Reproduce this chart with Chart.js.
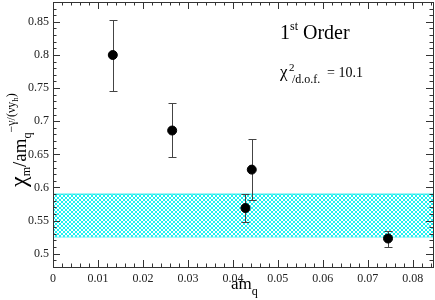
<!DOCTYPE html>
<html>
<head>
<meta charset="utf-8">
<script src="https://cdn.jsdelivr.net/npm/chart.js@4/dist/chart.umd.min.js"></script>
<style>
  html, body { margin: 0; padding: 0; background: #fff; }
</style>
</head>
<body>
<canvas id="myChart" width="435" height="300"></canvas>
<script>
// measured points: am_q, chi value, error bar top / bottom
const amq = [0.0133, 0.0265, 0.0428, 0.0442, 0.0745];
const chi = [0.800, 0.686, 0.569, 0.627, 0.523];
const errHi = [0.853, 0.727, 0.590, 0.673, 0.535];
const errLo = [0.746, 0.646, 0.548, 0.581, 0.510];

// fitted constant band
const bandX = [0, 0.0845];
const bandTop = [0.590, 0.590];
const bandBottom = [0.5255, 0.5255];

const xTicks = [0, 0.01, 0.02, 0.03, 0.04, 0.05, 0.06, 0.07, 0.08];
const yTicks = [0.5, 0.55, 0.6, 0.65, 0.7, 0.75, 0.8, 0.85];
const xMinor = 0.002;
const yMinor = 0.01;

const serif = '"Liberation Serif", "DejaVu Serif", serif';

// crosshatch tile, pixel by pixel
function hatch() {
    const c = document.createElement('canvas');
    c.width = 4; c.height = 4;
    const g = c.getContext('2d');
    g.fillStyle = '#ffffff';
    g.fillRect(0, 0, 4, 4);
    g.fillStyle = '#20f0f0';
    for (let i = 0; i < 4; i++) {
        g.fillRect(i, i, 1, 1);
        g.fillRect(3 - i, i, 1, 1);
    }
    return g.createPattern(c, 'repeat');
}

// draw a run of text pieces [text, size, dy]
function rich(ctx, x, y, parts) {
    ctx.textAlign = 'left';
    ctx.textBaseline = 'alphabetic';
    for (const [t, size, dy] of parts) {
        ctx.font = size + 'px ' + serif;
        ctx.fillText(t, x, y + dy);
        x += ctx.measureText(t).width;
    }
}

const errorBars = {
    id: 'errorBars',
    beforeDatasetDraw(chart, args) {
        if (args.index !== 0) return;
        const ctx = chart.ctx, xs = chart.scales.x, ys = chart.scales.y;
        ctx.save();
        ctx.strokeStyle = '#444';
        ctx.lineWidth = 1;
        for (let i = 0; i < amq.length; i++) {
            const px = Math.round(xs.getPixelForValue(amq[i])) + 0.5;
            const top = Math.round(ys.getPixelForValue(errHi[i])) + 0.5;
            const bot = Math.round(ys.getPixelForValue(errLo[i])) + 0.5;
            ctx.beginPath();
            ctx.moveTo(px, top); ctx.lineTo(px, bot);
            ctx.moveTo(px - 4, top); ctx.lineTo(px + 4, top);
            ctx.moveTo(px - 4, bot); ctx.lineTo(px + 4, bot);
            ctx.stroke();
        }
        ctx.restore();
    }
};

const frame = {
    id: 'frame',
    afterDraw(chart) {
        const ctx = chart.ctx, a = chart.chartArea;
        const xs = chart.scales.x, ys = chart.scales.y;
        ctx.save();
        ctx.strokeStyle = '#333';
        ctx.lineWidth = 1;
        ctx.strokeRect(Math.round(a.left) + 0.5, Math.round(a.top) + 0.5,
            Math.round(a.right - a.left), Math.round(a.bottom - a.top));
        ctx.beginPath();
        // x ticks, inward, top and bottom
        for (let v = 0; v <= xs.max + 1e-9; v += xMinor) {
            const px = Math.round(xs.getPixelForValue(v)) + 0.5;
            const major = Math.abs(v / 0.01 - Math.round(v / 0.01)) < 1e-6;
            const len = major ? 7 : 3.5;
            ctx.moveTo(px, a.bottom); ctx.lineTo(px, a.bottom - len);
            ctx.moveTo(px, a.top); ctx.lineTo(px, a.top + len);
        }
        // y ticks, inward, left and right
        for (let v = 0.48; v <= ys.max + 1e-9; v += yMinor) {
            const py = Math.round(ys.getPixelForValue(v)) + 0.5;
            const major = Math.abs(v / 0.05 - Math.round(v / 0.05)) < 1e-6;
            const len = major ? 7 : 3.5;
            ctx.moveTo(a.left, py); ctx.lineTo(a.left + len, py);
            ctx.moveTo(a.right, py); ctx.lineTo(a.right - len, py);
        }
        ctx.stroke();

        ctx.fillStyle = '#000';
        // annotations
        rich(ctx, 280, 39, [['1', 20, 0], ['st', 12, -9], [' Order', 20, 0]]);
        rich(ctx, 280, 77, [['\u03c7', 17, 0]]);
        rich(ctx, 289, 71, [['2', 11, 0]]);
        rich(ctx, 292, 83, [['/d.o.f.', 12, 0]]);
        rich(ctx, 327, 77, [['= 10.1', 14, 0]]);

        // axis titles
        rich(ctx, 231, 289, [['am', 17, 0], ['q', 12, 6]]);
        ctx.translate(26, 187);
        ctx.rotate(-Math.PI / 2);
        rich(ctx, 0, 0, [['\u03c7', 24, 0], ['m', 12, 4], ['/am', 19, 0], ['q', 12, 5],
            ['\u2212\u03b3/(\u03bdy', 12, -11], ['h', 9, -8], [')', 12, -11]]);
        ctx.restore();
    }
};

const ctx = document.getElementById('myChart').getContext('2d');
const band = hatch();

const myChart = new Chart(ctx, {
    type: 'scatter',
    data: {
        datasets: [{
            label: 'chi',
            data: amq.map((x, i) => ({x, y: chi[i]})),
            backgroundColor: '#000',
            borderColor: '#000',
            pointRadius: 4.5,
            order: 0
        }, {
            label: 'band low',
            type: 'line',
            data: bandX.map((x, i) => ({x, y: bandBottom[i]})),
            borderColor: '#00e8e8',
            borderWidth: 1,
            pointRadius: 0,
            fill: false,
            order: 2
        }, {
            label: 'band high',
            type: 'line',
            data: bandX.map((x, i) => ({x, y: bandTop[i]})),
            borderColor: '#00e8e8',
            borderWidth: 1,
            pointRadius: 0,
            backgroundColor: band,
            fill: '-1',
            order: 1
        }]
    },
    options: {
        responsive: false,
        animation: false,
        layout: { autoPadding: false, padding: { top: 2, right: 2, left: 0, bottom: 0 } },
        plugins: { legend: { display: false }, tooltip: { enabled: false } },
        scales: {
            x: {
                type: 'linear',
                min: 0,
                max: 0.0845,
                afterBuildTicks: s => { s.ticks = xTicks.map(v => ({value: v})); },
                afterFit: s => { s.height = 33; s.paddingLeft = 0; s.paddingRight = 0; },
                grid: { display: false, drawTicks: false },
                border: { display: false },
                ticks: {
                    padding: 5,
                    color: '#222',
                    maxRotation: 0,
                    font: { family: serif, size: 12 },
                    callback: v => v === 0 ? '0' : v.toFixed(2)
                }
            },
            y: {
                type: 'linear',
                min: 0.48,
                max: 0.88,
                afterBuildTicks: s => { s.ticks = yTicks.map(v => ({value: v})); },
                afterFit: s => { s.width = 53; s.paddingTop = 0; s.paddingBottom = 0; },
                grid: { display: false, drawTicks: false },
                border: { display: false },
                ticks: {
                    padding: 4,
                    color: '#222',
                    font: { family: serif, size: 12 },
                    callback: v => String(+v.toFixed(2))
                }
            }
        }
    },
    plugins: [errorBars, frame]
});
</script>
</body>
</html>
